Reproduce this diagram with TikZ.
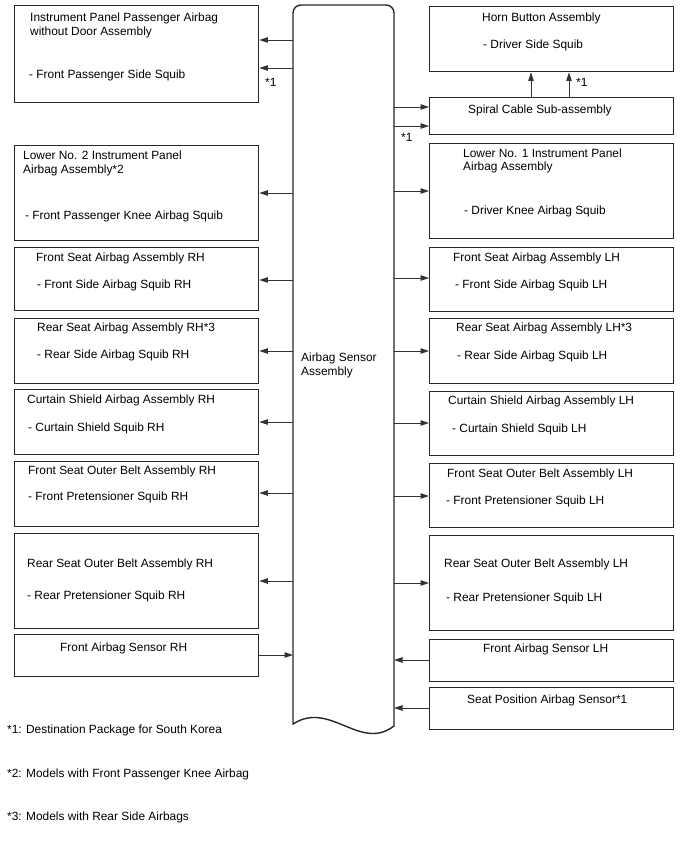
\documentclass[tikz,border=0pt]{standalone}
\usepackage{fontspec}
\setmainfont{Liberation Sans}
\usetikzlibrary{arrows.meta}
\tikzset{
  box/.style={draw=black!85, line width=1.4pt, inner sep=0pt, minimum width=244pt, anchor=north west},
  txt/.style={anchor=base west, inner sep=0pt, font=\fontsize{11.9}{14}\selectfont, text=black},
  arr/.style={draw=black!80, line width=0.9pt, -{Triangle[length=8.5pt,width=5.5pt]}},
  outline/.style={draw=black!85, line width=1.4pt},
}
\begin{document}
\begin{tikzpicture}[x=1pt,y=-1pt]
\useasboundingbox (0,0) rectangle (688,852);
% central assembly
\node[inner sep=0pt, outer sep=0pt, minimum width=101pt, minimum height=723pt, anchor=north west] (s) at (293,5) {};
\draw[outline] (293,724) -- (293,13) arc[start angle=180, end angle=270, radius=8]
  -- (386,5) arc[start angle=270, end angle=360, radius=8]
  -- (394,726) .. controls (360,752) and (330,700) .. (293,724) -- cycle;
\node[txt] (st1) at (301,361) {Airbag Sensor};
\node[txt] (st2) at (301,375) {Assembly};
% left boxes
\node[box, minimum height=97pt] (L1) at (14,5) {};
\node[box, minimum height=95pt] (L2) at (14,145) {};
\node[box, minimum height=63pt] (L3) at (14,247) {};
\node[box, minimum height=65pt] (L4) at (14,318) {};
\node[box, minimum height=65pt] (L5) at (14,389) {};
\node[box, minimum height=65pt] (L6) at (14,461) {};
\node[box, minimum height=95pt] (L7) at (14,533) {};
\node[box, minimum height=42pt] (L8) at (14,634) {};
% right boxes
\node[box, minimum height=65pt] (R1) at (429,6) {};
\node[box, minimum height=37pt] (R2) at (429,97) {};
\node[box, minimum height=95pt] (R3) at (429,143) {};
\node[box, minimum height=64pt] (R4) at (429,247) {};
\node[box, minimum height=65pt] (R5) at (429,318) {};
\node[box, minimum height=64pt] (R6) at (429,391) {};
\node[box, minimum height=64pt] (R7) at (429,463) {};
\node[box, minimum height=95pt] (R8) at (429,535) {};
\node[box, minimum height=42pt] (R9) at (429,639) {};
\node[box, minimum height=42pt] (R10) at (429,687) {};
% left texts
\node[txt] (l1a) at (30,21) {Instrument Panel Passenger Airbag};
\node[txt] (l1b) at (30,35) {without Door Assembly};
\node[txt] (l1c) at (29,78) {- Front Passenger Side Squib};
\node[txt] (l2a) at (23,159) {Lower No. 2 Instrument Panel};
\node[txt] (l2b) at (23,173) {Airbag Assembly*2};
\node[txt] (l2c) at (25,219) {- Front Passenger Knee Airbag Squib};
\node[txt] (l3a) at (36,261) {Front Seat Airbag Assembly RH};
\node[txt] (l3b) at (37,288) {- Front Side Airbag Squib RH};
\node[txt] (l4a) at (37,331) {Rear Seat Airbag Assembly RH*3};
\node[txt] (l4b) at (37,358) {- Rear Side Airbag Squib RH};
\node[txt] (l5a) at (27,403) {Curtain Shield Airbag Assembly RH};
\node[txt] (l5b) at (28,431) {- Curtain Shield Squib RH};
\node[txt] (l6a) at (28,474) {Front Seat Outer Belt Assembly RH};
\node[txt] (l6b) at (28,500) {- Front Pretensioner Squib RH};
\node[txt] (l7a) at (27,567) {Rear Seat Outer Belt Assembly RH};
\node[txt] (l7b) at (27,599) {- Rear Pretensioner Squib RH};
\node[txt] (l8a) at (60,651) {Front Airbag Sensor RH};
% right texts
\node[txt] (r1a) at (482,21) {Horn Button Assembly};
\node[txt] (r1b) at (483,48) {- Driver Side Squib};
\node[txt] (r2a) at (468,113) {Spiral Cable Sub-assembly};
\node[txt] (r3a) at (463,157) {Lower No. 1 Instrument Panel};
\node[txt] (r3b) at (463,170) {Airbag Assembly};
\node[txt] (r3c) at (464,214) {- Driver Knee Airbag Squib};
\node[txt] (r4a) at (453,261) {Front Seat Airbag Assembly LH};
\node[txt] (r4b) at (455,288) {- Front Side Airbag Squib LH};
\node[txt] (r5a) at (456,331) {Rear Seat Airbag Assembly LH*3};
\node[txt] (r5b) at (457,359) {- Rear Side Airbag Squib LH};
\node[txt] (r6a) at (448,404) {Curtain Shield Airbag Assembly LH};
\node[txt] (r6b) at (452,432) {- Curtain Shield Squib LH};
\node[txt] (r7a) at (447,477) {Front Seat Outer Belt Assembly LH};
\node[txt] (r7b) at (446,504) {- Front Pretensioner Squib LH};
\node[txt] (r8a) at (444,567) {Rear Seat Outer Belt Assembly LH};
\node[txt] (r8b) at (446,601) {- Rear Pretensioner Squib LH};
\node[txt] (r9a) at (483,652) {Front Airbag Sensor LH};
\node[txt] (r10a) at (467,703) {Seat Position Airbag Sensor*1};
% star labels
\node[txt] (n1) at (265,86) {*1};
\node[txt] (n2) at (576,86) {*1};
\node[txt] (n3) at (401,141) {*1};
% footnotes
\node[txt] (f1) at (7,733) {*1: Destination Package for South Korea};
\node[txt] (f2) at (7,777) {*2: Models with Front Passenger Knee Airbag};
\node[txt] (f3) at (7,820) {*3: Models with Rear Side Airbags};
% arrows left
\draw[arr] (s.west |- 0,40) -- (L1.east |- 0,40);
\draw[arr] (s.west |- 0,68) -- (L1.east |- 0,68);
\draw[arr] (s.west |- 0,193) -- (L2.east |- 0,193);
\draw[arr] (s.west |- 0,280) -- (L3.east |- 0,280);
\draw[arr] (s.west |- 0,351) -- (L4.east |- 0,351);
\draw[arr] (s.west |- 0,422) -- (L5.east |- 0,422);
\draw[arr] (s.west |- 0,493) -- (L6.east |- 0,493);
\draw[arr] (s.west |- 0,581) -- (L7.east |- 0,581);
\draw[arr] (L8.east |- 0,655) -- (s.west |- 0,655);
% arrows right
\draw[arr] (s.east |- 0,107) -- (R2.west |- 0,107);
\draw[arr] (s.east |- 0,126) -- (R2.west |- 0,126);
\draw[arr] (s.east |- 0,191) -- (R3.west |- 0,191);
\draw[arr] (s.east |- 0,278) -- (R4.west |- 0,278);
\draw[arr] (s.east |- 0,351) -- (R5.west |- 0,351);
\draw[arr] (s.east |- 0,423) -- (R6.west |- 0,423);
\draw[arr] (s.east |- 0,496) -- (R7.west |- 0,496);
\draw[arr] (s.east |- 0,583) -- (R8.west |- 0,583);
\draw[arr] (R9.west |- 0,660) -- (s.east |- 0,660);
\draw[arr] (R10.west |- 0,708) -- (s.east |- 0,708);
% spiral to horn
\draw[arr] (R2.north -| 531,0) -- (R1.south -| 531,0);
\draw[arr] (R2.north -| 569,0) -- (R1.south -| 569,0);
\end{tikzpicture}
\end{document}
